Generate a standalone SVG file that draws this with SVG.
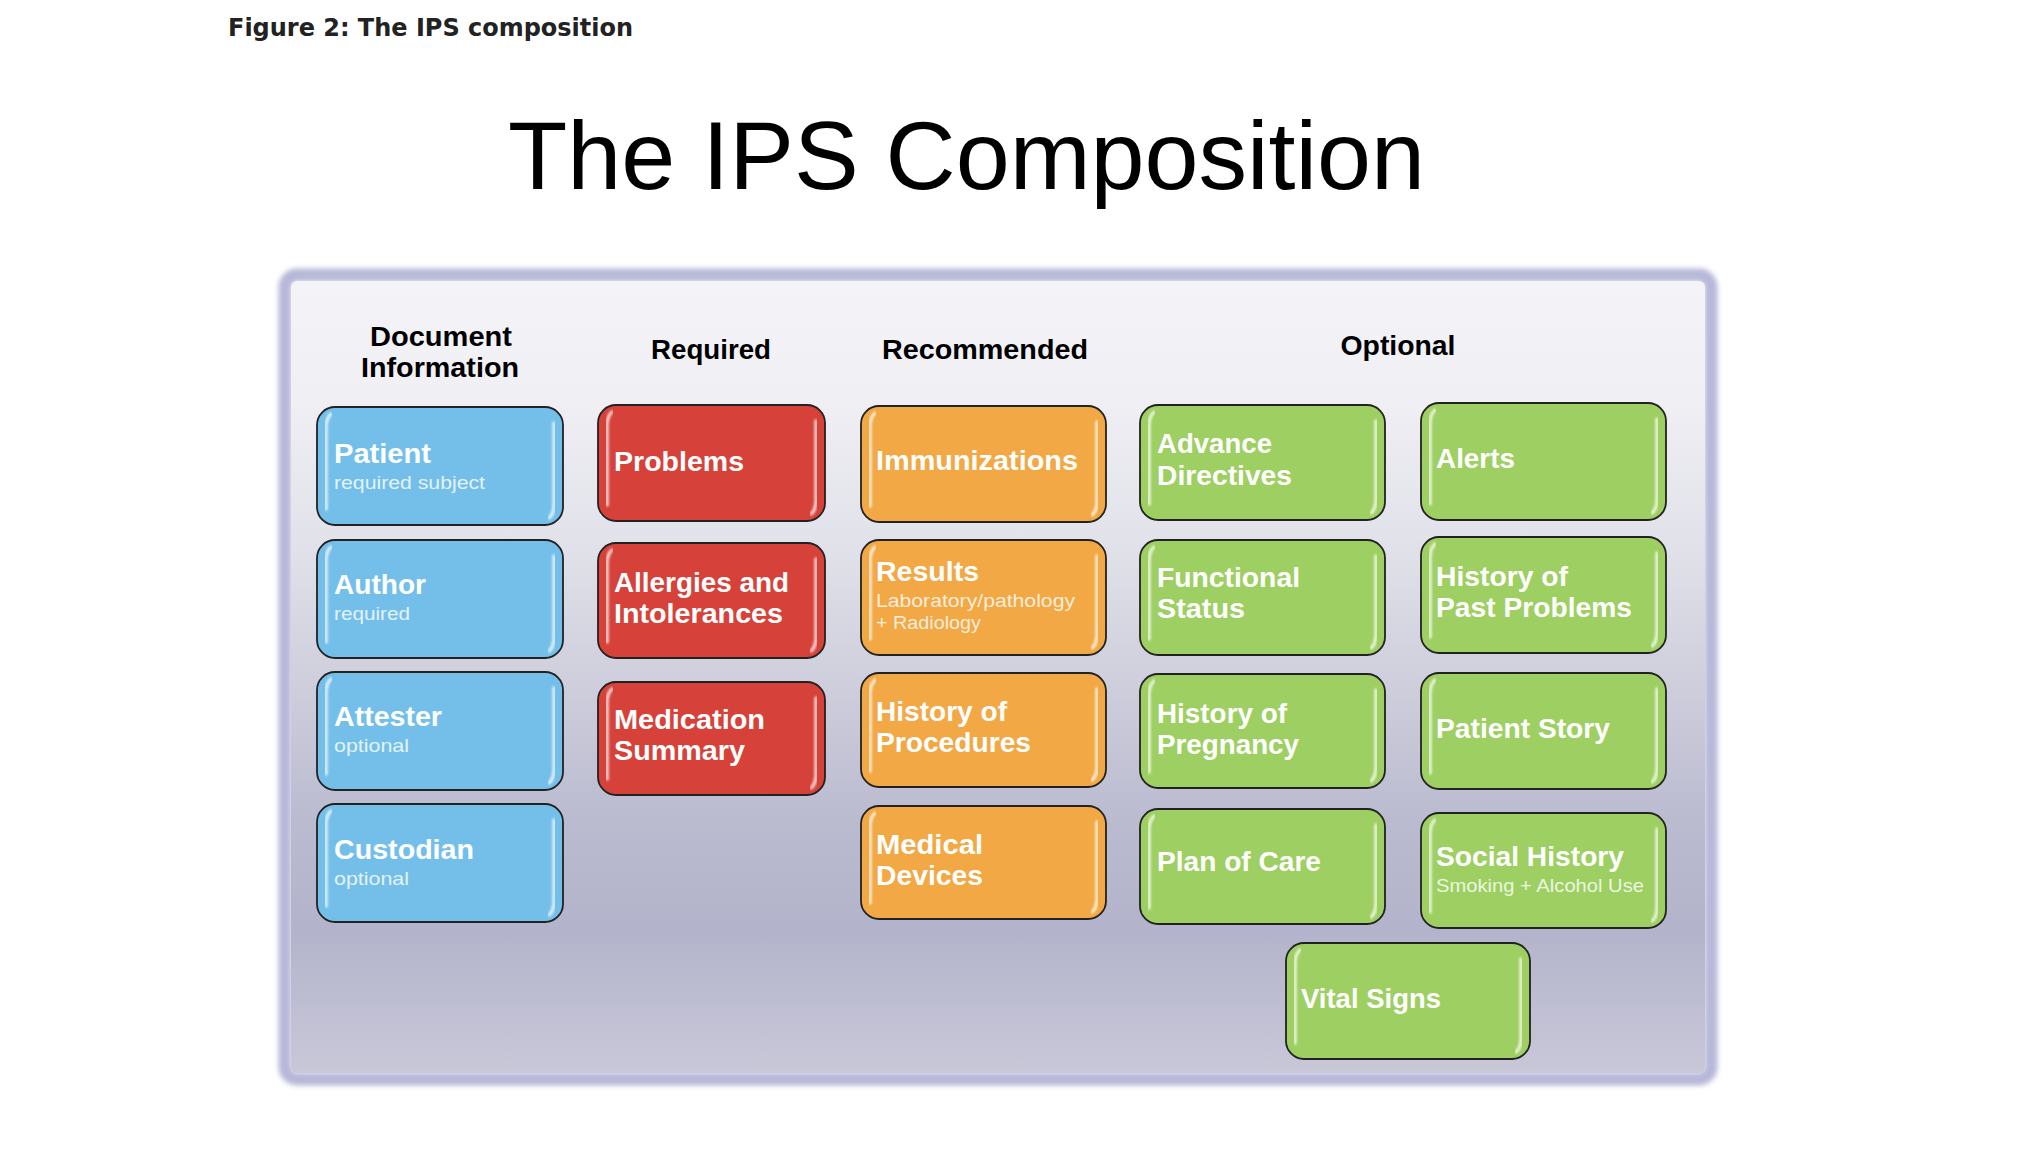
<svg xmlns="http://www.w3.org/2000/svg" width="2024" height="1174" viewBox="0 0 2024 1174">
<defs>
<linearGradient id="panelFill" x1="0" y1="0" x2="0" y2="1">
<stop offset="0" stop-color="#f4f4f8"/>
<stop offset="0.15" stop-color="#efeff4"/>
<stop offset="0.35" stop-color="#e0e0e9"/>
<stop offset="0.5" stop-color="#cfcfdd"/>
<stop offset="0.7" stop-color="#b9b9cf"/>
<stop offset="0.82" stop-color="#b3b3cb"/>
<stop offset="1" stop-color="#c9c8d9"/>
</linearGradient>
<filter id="soft" x="-5%" y="-5%" width="110%" height="110%">
<feGaussianBlur stdDeviation="2.5"/>
</filter>
<filter id="glow" x="-20%" y="-5%" width="140%" height="110%">
<feGaussianBlur stdDeviation="0.8"/>
</filter>
</defs>
<style>
.cap{font-family:"DejaVu Sans",Verdana,sans-serif;font-weight:bold;font-size:24px;fill:#222}
.ttl{font-family:"Liberation Sans",Arial,sans-serif;font-size:97px;fill:#000}
.hdr{font-family:"Liberation Sans",Arial,sans-serif;font-weight:bold;font-size:27px;fill:#000;text-anchor:middle}
.box{stroke:#222;stroke-width:1.8}
.blue{fill:#74bfea}
.red{fill:#d6423a}
.orange{fill:#f2a844}
.green{fill:#9ecf62}
.lbl{font-family:"Liberation Sans",Arial,sans-serif;font-weight:bold;font-size:27px;fill:#ffffff}
.sub{font-family:"Liberation Sans",Arial,sans-serif;font-size:19px;fill:#ffffff;fill-opacity:0.82}
.gl{fill:none;stroke:#ffffff;stroke-width:3.5;stroke-linecap:round;stroke-opacity:0.75;filter:url(#glow)}
</style>

<text class="cap" x="228" y="36" textLength="405" lengthAdjust="spacingAndGlyphs">Figure 2: The IPS composition</text>
<text class="ttl" x="508" y="189" textLength="917" lengthAdjust="spacingAndGlyphs">The IPS Composition</text>

<g id="panel">
<rect x="285" y="275" width="1426" height="804" rx="12" fill="none" stroke="#b7b7d9" stroke-width="13" filter="url(#soft)"/>
<rect x="291" y="281" width="1414" height="792" rx="6" fill="url(#panelFill)"/>
</g>

<g id="headers">
<text class="hdr" x="441" y="346" textLength="142" lengthAdjust="spacingAndGlyphs">Document</text>
<text class="hdr" x="440" y="377" textLength="158" lengthAdjust="spacingAndGlyphs">Information</text>
<text class="hdr" x="711" y="359" textLength="120" lengthAdjust="spacingAndGlyphs">Required</text>
<text class="hdr" x="985" y="359" textLength="206" lengthAdjust="spacingAndGlyphs">Recommended</text>
<text class="hdr" x="1398" y="355" textLength="115" lengthAdjust="spacingAndGlyphs">Optional</text>
</g>

<g id="patient">
<rect class="box blue" x="317" y="407" width="246" height="118" rx="18"/>
<path class="gl" d="M326,509 L326,428 Q326,418 331,414"/>
<path class="gl" d="M554,423 L554,504 Q554,514 549,518"/>
<text class="lbl" x="334" y="463" textLength="97" lengthAdjust="spacingAndGlyphs">Patient</text>
<text class="sub" x="334" y="489" textLength="151" lengthAdjust="spacingAndGlyphs">required subject</text>
</g>
<g id="author">
<rect class="box blue" x="317" y="540" width="246" height="118" rx="18"/>
<path class="gl" d="M326,642 L326,561 Q326,551 331,547"/>
<path class="gl" d="M554,556 L554,637 Q554,647 549,651"/>
<text class="lbl" x="334" y="594" textLength="92" lengthAdjust="spacingAndGlyphs">Author</text>
<text class="sub" x="334" y="620" textLength="76" lengthAdjust="spacingAndGlyphs">required</text>
</g>
<g id="attester">
<rect class="box blue" x="317" y="672" width="246" height="118" rx="18"/>
<path class="gl" d="M326,774 L326,693 Q326,683 331,679"/>
<path class="gl" d="M554,688 L554,769 Q554,779 549,783"/>
<text class="lbl" x="334" y="726" textLength="108" lengthAdjust="spacingAndGlyphs">Attester</text>
<text class="sub" x="334" y="752" textLength="75" lengthAdjust="spacingAndGlyphs">optional</text>
</g>
<g id="custodian">
<rect class="box blue" x="317" y="804" width="246" height="118" rx="18"/>
<path class="gl" d="M326,906 L326,825 Q326,815 331,811"/>
<path class="gl" d="M554,820 L554,901 Q554,911 549,915"/>
<text class="lbl" x="334" y="859" textLength="140" lengthAdjust="spacingAndGlyphs">Custodian</text>
<text class="sub" x="334" y="885" textLength="75" lengthAdjust="spacingAndGlyphs">optional</text>
</g>

<g id="problems">
<rect class="box red" x="598" y="405" width="227" height="116" rx="18"/>
<path class="gl" d="M607,505 L607,426 Q607,416 612,412"/>
<path class="gl" d="M816,421 L816,500 Q816,510 811,514"/>
<text class="lbl" x="614" y="471" textLength="130" lengthAdjust="spacingAndGlyphs">Problems</text>
</g>
<g id="allergies">
<rect class="box red" x="598" y="543" width="227" height="115" rx="18"/>
<path class="gl" d="M607,642 L607,564 Q607,554 612,550"/>
<path class="gl" d="M816,559 L816,637 Q816,647 811,651"/>
<text class="lbl" x="614" y="592" textLength="175" lengthAdjust="spacingAndGlyphs">Allergies and</text>
<text class="lbl" x="614" y="623" textLength="169" lengthAdjust="spacingAndGlyphs">Intolerances</text>
</g>
<g id="medication">
<rect class="box red" x="598" y="682" width="227" height="113" rx="18"/>
<path class="gl" d="M607,779 L607,703 Q607,693 612,689"/>
<path class="gl" d="M816,698 L816,774 Q816,784 811,788"/>
<text class="lbl" x="614" y="729" textLength="151" lengthAdjust="spacingAndGlyphs">Medication</text>
<text class="lbl" x="614" y="760" textLength="131" lengthAdjust="spacingAndGlyphs">Summary</text>
</g>

<g id="immunizations">
<rect class="box orange" x="861" y="406" width="245" height="116" rx="18"/>
<path class="gl" d="M870,506 L870,427 Q870,417 875,413"/>
<path class="gl" d="M1097,422 L1097,501 Q1097,511 1092,515"/>
<text class="lbl" x="876" y="470" textLength="202" lengthAdjust="spacingAndGlyphs">Immunizations</text>
</g>
<g id="results">
<rect class="box orange" x="861" y="540" width="245" height="115" rx="18"/>
<path class="gl" d="M870,639 L870,561 Q870,551 875,547"/>
<path class="gl" d="M1097,556 L1097,634 Q1097,644 1092,648"/>
<text class="lbl" x="876" y="581" textLength="103" lengthAdjust="spacingAndGlyphs">Results</text>
<text class="sub" x="876" y="607" textLength="199" lengthAdjust="spacingAndGlyphs">Laboratory/pathology</text>
<text class="sub" x="876" y="629" textLength="105" lengthAdjust="spacingAndGlyphs">+ Radiology</text>
</g>
<g id="procedures">
<rect class="box orange" x="861" y="673" width="245" height="114" rx="18"/>
<path class="gl" d="M870,771 L870,694 Q870,684 875,680"/>
<path class="gl" d="M1097,689 L1097,766 Q1097,776 1092,780"/>
<text class="lbl" x="876" y="721" textLength="131" lengthAdjust="spacingAndGlyphs">History of</text>
<text class="lbl" x="876" y="752" textLength="155" lengthAdjust="spacingAndGlyphs">Procedures</text>
</g>
<g id="devices">
<rect class="box orange" x="861" y="806" width="245" height="113" rx="18"/>
<path class="gl" d="M870,903 L870,827 Q870,817 875,813"/>
<path class="gl" d="M1097,822 L1097,898 Q1097,908 1092,912"/>
<text class="lbl" x="876" y="854" textLength="107" lengthAdjust="spacingAndGlyphs">Medical</text>
<text class="lbl" x="876" y="885" textLength="107" lengthAdjust="spacingAndGlyphs">Devices</text>
</g>

<g id="advance-directives">
<rect class="box green" x="1140" y="405" width="245" height="115" rx="18"/>
<path class="gl" d="M1149,504 L1149,426 Q1149,416 1154,412"/>
<path class="gl" d="M1376,421 L1376,499 Q1376,509 1371,513"/>
<text class="lbl" x="1157" y="453" textLength="115" lengthAdjust="spacingAndGlyphs">Advance</text>
<text class="lbl" x="1157" y="485" textLength="135" lengthAdjust="spacingAndGlyphs">Directives</text>
</g>
<g id="functional-status">
<rect class="box green" x="1140" y="540" width="245" height="115" rx="18"/>
<path class="gl" d="M1149,639 L1149,561 Q1149,551 1154,547"/>
<path class="gl" d="M1376,556 L1376,634 Q1376,644 1371,648"/>
<text class="lbl" x="1157" y="587" textLength="143" lengthAdjust="spacingAndGlyphs">Functional</text>
<text class="lbl" x="1157" y="618" textLength="88" lengthAdjust="spacingAndGlyphs">Status</text>
</g>
<g id="pregnancy">
<rect class="box green" x="1140" y="674" width="245" height="114" rx="18"/>
<path class="gl" d="M1149,772 L1149,695 Q1149,685 1154,681"/>
<path class="gl" d="M1376,690 L1376,767 Q1376,777 1371,781"/>
<text class="lbl" x="1157" y="723" textLength="130" lengthAdjust="spacingAndGlyphs">History of</text>
<text class="lbl" x="1157" y="754" textLength="142" lengthAdjust="spacingAndGlyphs">Pregnancy</text>
</g>
<g id="plan-of-care">
<rect class="box green" x="1140" y="809" width="245" height="115" rx="18"/>
<path class="gl" d="M1149,908 L1149,830 Q1149,820 1154,816"/>
<path class="gl" d="M1376,825 L1376,903 Q1376,913 1371,917"/>
<text class="lbl" x="1157" y="871" textLength="164" lengthAdjust="spacingAndGlyphs">Plan of Care</text>
</g>

<g id="alerts">
<rect class="box green" x="1421" y="403" width="245" height="117" rx="18"/>
<path class="gl" d="M1430,504 L1430,424 Q1430,414 1435,410"/>
<path class="gl" d="M1657,419 L1657,499 Q1657,509 1652,513"/>
<text class="lbl" x="1436" y="468" textLength="79" lengthAdjust="spacingAndGlyphs">Alerts</text>
</g>
<g id="past-problems">
<rect class="box green" x="1421" y="537" width="245" height="116" rx="18"/>
<path class="gl" d="M1430,637 L1430,558 Q1430,548 1435,544"/>
<path class="gl" d="M1657,553 L1657,632 Q1657,642 1652,646"/>
<text class="lbl" x="1436" y="586" textLength="132" lengthAdjust="spacingAndGlyphs">History of</text>
<text class="lbl" x="1436" y="617" textLength="196" lengthAdjust="spacingAndGlyphs">Past Problems</text>
</g>
<g id="patient-story">
<rect class="box green" x="1421" y="673" width="245" height="116" rx="18"/>
<path class="gl" d="M1430,773 L1430,694 Q1430,684 1435,680"/>
<path class="gl" d="M1657,689 L1657,768 Q1657,778 1652,782"/>
<text class="lbl" x="1436" y="738" textLength="174" lengthAdjust="spacingAndGlyphs">Patient Story</text>
</g>
<g id="social-history">
<rect class="box green" x="1421" y="813" width="245" height="115" rx="18"/>
<path class="gl" d="M1430,912 L1430,834 Q1430,824 1435,820"/>
<path class="gl" d="M1657,829 L1657,907 Q1657,917 1652,921"/>
<text class="lbl" x="1436" y="866" textLength="188" lengthAdjust="spacingAndGlyphs">Social History</text>
<text class="sub" x="1436" y="892" textLength="208" lengthAdjust="spacingAndGlyphs">Smoking + Alcohol Use</text>
</g>

<g id="vital-signs">
<rect class="box green" x="1286" y="943" width="244" height="116" rx="18"/>
<path class="gl" d="M1295,1043 L1295,964 Q1295,954 1300,950"/>
<path class="gl" d="M1521,959 L1521,1038 Q1521,1048 1516,1052"/>
<text class="lbl" x="1301" y="1008" textLength="140" lengthAdjust="spacingAndGlyphs">Vital Signs</text>
</g>

<g id="connectors"></g>
</svg>
